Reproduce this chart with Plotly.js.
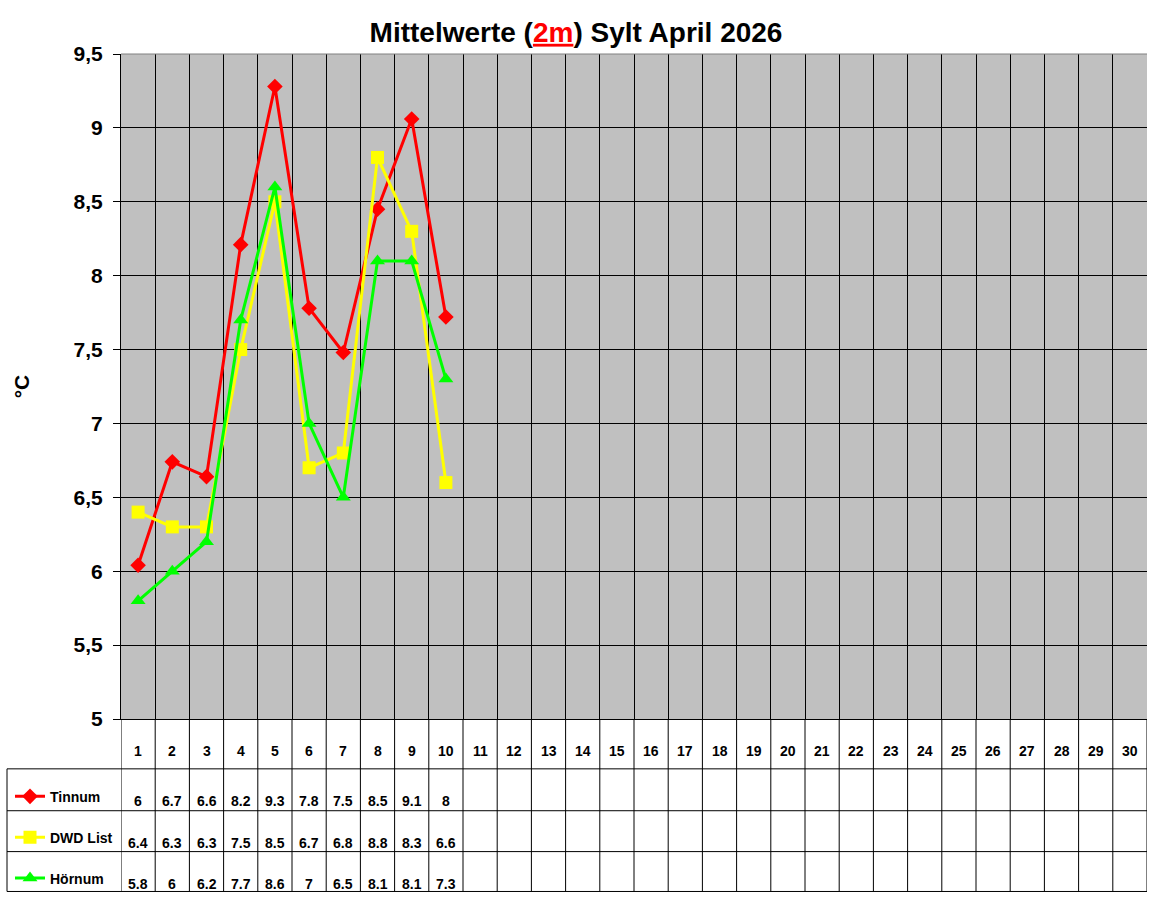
<!DOCTYPE html>
<html>
<head>
<meta charset="utf-8">
<script src="https://cdn.plot.ly/plotly-3.0.1.min.js"></script>
<style>
  html, body { margin: 0; padding: 0; background: #fff; }
  #chart { width: 1152px; height: 900px; }
</style>
</head>
<body>
<div id="chart"></div>
<script>
// daily means, April 2026 (2m)
const days = [1, 2, 3, 4, 5, 6, 7, 8, 9, 10];
const monthDays = Array.from({length: 30}, (_, i) => i + 1);
const tinnum = [6.04, 6.74, 6.64, 8.21, 9.28, 7.78, 7.48, 8.45, 9.06, 7.72];
const dwdList = [6.4, 6.3, 6.3, 7.5, 8.5, 6.7, 6.8, 8.8, 8.3, 6.6];
const hoernum = [5.8, 6.0, 6.2, 7.7, 8.6, 7.0, 6.5, 8.1, 8.1, 7.3];
// values as printed in the data table
const tinnumLabels = ['6', '6.7', '6.6', '8.2', '9.3', '7.8', '7.5', '8.5', '9.1', '8'];
const dwdLabels = ['6.4', '6.3', '6.3', '7.5', '8.5', '6.7', '6.8', '8.8', '8.3', '6.6'];
const hoernumLabels = ['5.8', '6', '6.2', '7.7', '8.6', '7', '6.5', '8.1', '8.1', '7.3'];

const FONT = 'Liberation Sans, Arial, sans-serif';

// plot area in pixels
const plotTop = 54, plotBottom = 721, plotLeft = 121, plotRight = 1147;
const py = (p) => (plotBottom - p) / (plotBottom - plotTop);
const px = (p) => (p - plotLeft) / (plotRight - plotLeft);

const series = [
    {name: 'Tinnum', y: tinnum, labels: tinnumLabels, color: '#FF0000', symbol: 'diamond', size: 12, textY: 803, keyY: 799},
    {name: 'DWD List', y: dwdList, labels: dwdLabels, color: '#FFFF00', symbol: 'square', size: 13, textY: 845, keyY: 840},
    {name: 'Hörnum', y: hoernum, labels: hoernumLabels, color: '#00FF00', symbol: 'triangle-up', size: 13, textY: 886, keyY: 881},
];

const data = series.map((s, i) => ({
    x: days,
    y: s.y,
    type: 'scatter',
    mode: 'lines+markers',
    name: s.name,
    showlegend: true,
    legend: i === 0 ? 'legend' : 'legend' + (i + 1),
    line: {color: s.color, width: 3},
    marker: {color: s.color, symbol: s.symbol, size: s.size, line: {width: 0}},
    cliponaxis: false,
}));

const shapes = [];
const annotations = [];
const lineStyle = {color: '#000', width: 1};

// table: horizontal lines
[771, 813, 854, 894].forEach((p) => {
    shapes.push({type: 'line', xref: 'paper', yref: 'paper', x0: px(7), x1: 1, y0: py(p), y1: py(p), line: lineStyle});
});
// left border of the legend column
shapes.push({type: 'line', xref: 'paper', yref: 'paper', x0: px(7), x1: px(7), y0: py(771), y1: py(894), line: lineStyle});
// column borders
for (let k = 0; k <= monthDays.length; k++) {
    shapes.push({type: 'line', xref: 'x', yref: 'paper', x0: k + 0.5, x1: k + 0.5, y0: 0, y1: py(894), line: lineStyle});
}
// grey top border of the plot area
shapes.push({type: 'line', xref: 'paper', yref: 'paper', x0: 0, x1: 1, y0: 1, y1: 1, line: {color: '#808080', width: 1}, layer: 'above'});

const cellFont = {family: FONT, size: 14, color: '#000', weight: 700};
monthDays.forEach((d) => {
    annotations.push({x: d, y: py(753), xref: 'x', yref: 'paper', text: String(d), showarrow: false, font: cellFont, xanchor: 'center', yanchor: 'middle'});
});
series.forEach((s) => {
    s.labels.forEach((t, i) => {
        annotations.push({x: days[i], y: py(s.textY), xref: 'x', yref: 'paper', text: t, showarrow: false, font: cellFont, xanchor: 'center', yanchor: 'middle'});
    });
});

const legendBase = {
    x: px(10), xanchor: 'left', yanchor: 'middle',
    bgcolor: 'rgba(0,0,0,0)', borderwidth: 0,
    font: {family: FONT, size: 14, color: '#000', weight: 700},
    valign: 'top',
};

const layout = {
    width: 1152,
    height: 900,
    showlegend: true,
    margin: {l: plotLeft, r: 1152 - plotRight, t: plotTop, b: 900 - plotBottom, pad: 0},
    paper_bgcolor: '#FFFFFF',
    plot_bgcolor: '#C0C0C0',
    separators: ',.',
    font: {family: FONT, color: '#000'},
    title: {
        text: 'Mittelwerte (<span style="color:#FF0000;text-decoration:underline">2m</span>) Sylt April 2026',
        font: {family: FONT, size: 28, color: '#000', weight: 700},
        x: 0.5, xref: 'container', xanchor: 'center',
        y: 1 - 32 / 900, yref: 'container', yanchor: 'middle',
    },
    xaxis: {
        type: 'linear',
        range: [0.5, 30.5],
        tick0: 0.5,
        dtick: 1,
        showticklabels: false,
        ticks: '',
        showgrid: true,
        gridcolor: '#000',
        gridwidth: 1,
        zeroline: false,
        showline: true,
        linecolor: '#000',
        linewidth: 1,
        fixedrange: true,
    },
    yaxis: {
        range: [5, 9.5],
        tick0: 5,
        dtick: 0.5,
        ticks: 'outside',
        ticklen: 7,
        tickcolor: '#000',
        tickwidth: 1,
        ticklabelstandoff: 6,
        tickfont: {family: FONT, size: 21, color: '#000', weight: 700},
        showgrid: true,
        gridcolor: '#000',
        gridwidth: 1,
        zeroline: false,
        showline: true,
        linecolor: '#000',
        linewidth: 1,
        title: {text: '°C', font: {family: FONT, size: 21, color: '#000', weight: 700}, standoff: 38},
        automargin: false,
        fixedrange: true,
    },
    legend: {...legendBase, y: py(series[0].keyY)},
    legend2: {...legendBase, y: py(series[1].keyY)},
    legend3: {...legendBase, y: py(series[2].keyY)},
    shapes: shapes,
    annotations: annotations,
};

Plotly.newPlot('chart', data, layout, {displayModeBar: false, staticPlot: true});
</script>
</body>
</html>
